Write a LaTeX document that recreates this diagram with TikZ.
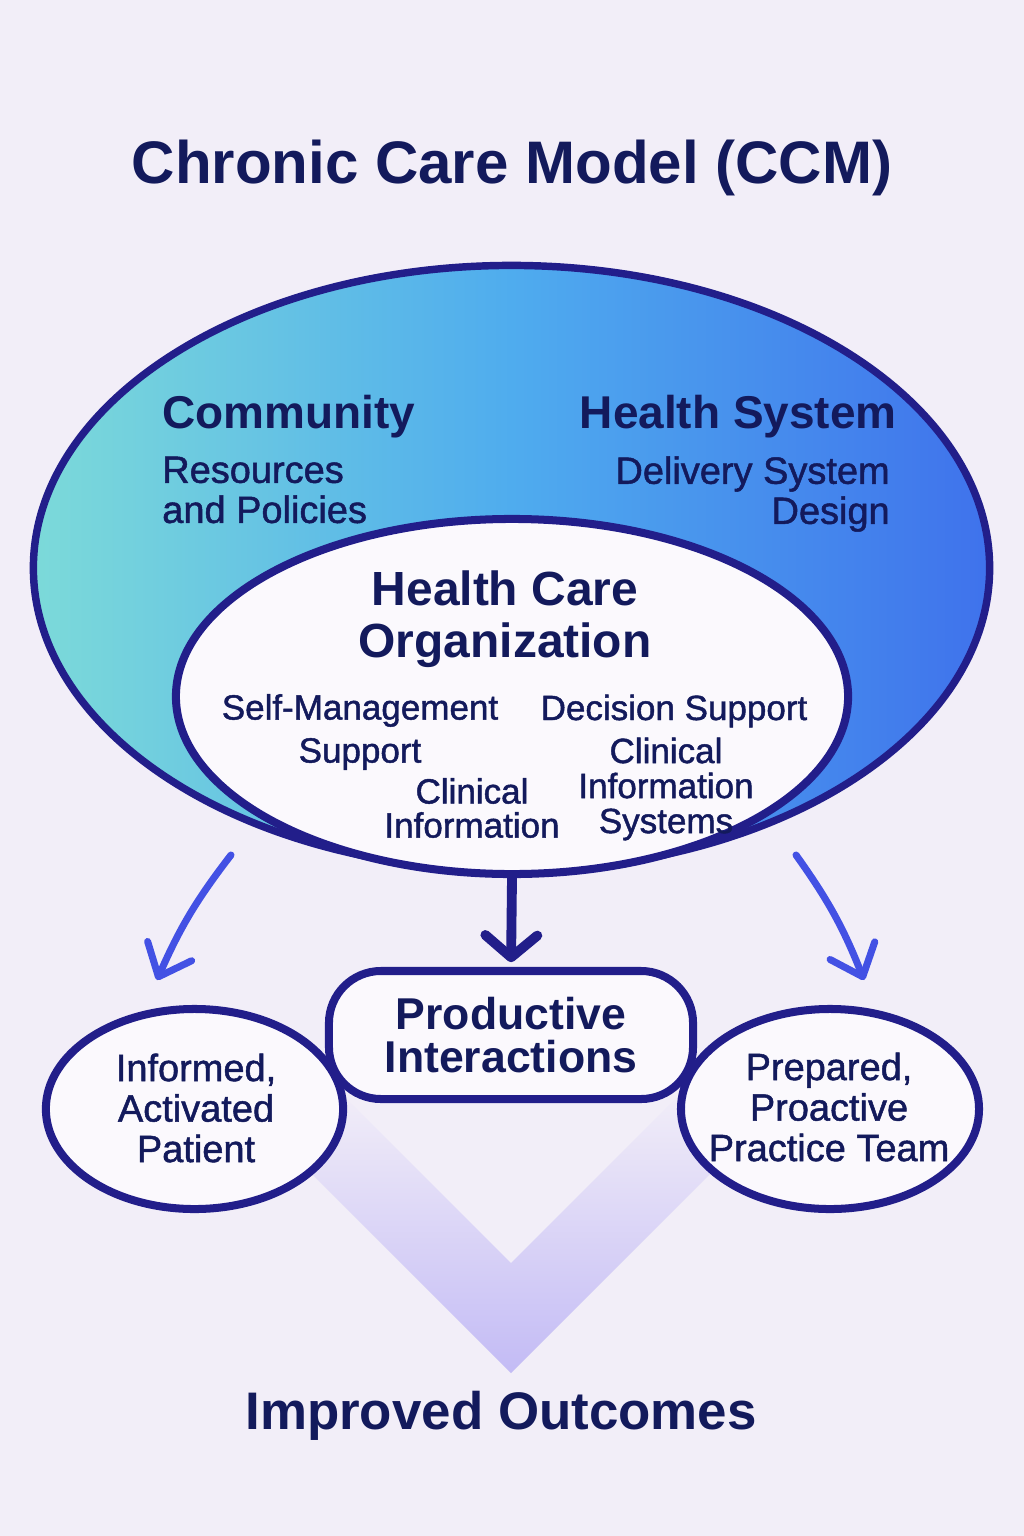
\documentclass[tikz,border=0pt]{standalone}
\usepackage{fontspec}
\setmainfont{Liberation Sans}
\newfontfamily\medfont[FakeBold=1.3]{Liberation Sans}
\usetikzlibrary{arrows.meta,shapes.geometric}
\definecolor{paper}{HTML}{F2EEF8}
\definecolor{navy}{HTML}{221E8A}
\definecolor{ink}{HTML}{131A5C}
\definecolor{teal}{HTML}{7CDAD9}
\definecolor{sky}{HTML}{4FACEE}
\definecolor{royal}{HTML}{3F72EC}
\definecolor{cobalt}{HTML}{4351E4}
\definecolor{lilac}{HTML}{C3BBF5}
\definecolor{cloud}{HTML}{FBF9FD}
\begin{document}
\begin{tikzpicture}[x=0.025cm,y=-0.025cm,
  ring/.style={ellipse,draw=navy,fill=cloud,line width=5.7pt,inner sep=0pt},
  bubble/.style={text=ink,inner sep=0pt,align=center,font=\medfont\fontsize{27}{28.8}\selectfont},
  head/.style={text=ink,inner sep=0pt,font=\fontsize{32.7}{38}\selectfont\bfseries},
  sub/.style={text=ink,inner sep=0pt,font=\medfont\fontsize{27}{28.5}\selectfont},
  item/.style={text=ink,inner sep=0pt,align=center,font=\medfont\fontsize{24.9}{30.6}\selectfont},
  side/.style={cobalt,line width=5pt,line cap=round,-{Straight Barb[length=0.7cm,width=1.2cm,round]}}]
\fill[paper] (0,0) rectangle (1024,1536);
\useasboundingbox (0,0) rectangle (1024,1536);
\node[text=ink,inner sep=0pt,anchor=base,font=\fontsize{42.7}{50}\selectfont\bfseries] (title) at (512,184) {Chronic Care Model (CCM)};
\shade[top color=paper,bottom color=lilac] (228,1090) -- (511,1373) -- (794,1090) -- (684,1090) -- (511,1263) -- (338,1090) -- cycle;
\node[ellipse,draw=navy,line width=5.3pt,left color=teal,right color=royal,middle color=sky,minimum width=23.9cm,minimum height=15.125cm,inner sep=0pt] (cms) at (511.5,568) {};
\node[ring,minimum width=16.8cm,minimum height=8.875cm] (hco) at (512,696.5) {};
\node[head,anchor=base west] (comm) at (162,428) {Community};
\node[sub,align=left,anchor=west] (res) at (162,490) {Resources\\and Policies};
\node[head,anchor=base east] (hsys) at (897,428) {Health System};
\node[sub,align=right,anchor=east] (dsd) at (890,494) {Delivery System\\Design};
\node[text=ink,inner sep=0pt,align=center,font=\fontsize{34.1}{37}\selectfont\bfseries] (hcot) at (505,619) {Health Care\\Organization};
\node[item] (sms) at (360,732) {Self-Management\\Support};
\node[item,anchor=base] (ds) at (674,720) {Decision Support};
\node[item,font=\medfont\fontsize{24.9}{24.9}\selectfont] (cis) at (666,789) {Clinical\\Information\\Systems};
\node[item,font=\medfont\fontsize{24.9}{24.2}\selectfont] (ci) at (472,808) {Clinical\\Information};
\node[ring,minimum width=7.43cm,minimum height=5cm] (pat) at (194.5,1109) {};
\node[bubble] (patt) at (196,1108) {Informed,\\Activated\\Patient};
\node[ring,minimum width=7.45cm,minimum height=5cm] (team) at (830,1109) {};
\node[bubble] (teamt) at (829,1107) {Prepared,\\Proactive\\Practice Team};
\node[rectangle,draw=navy,fill=cloud,line width=5.7pt,rounded corners=1.3cm,minimum width=9.1cm,minimum height=3.2cm,text=ink,align=center,font=\fontsize{31.7}{30}\selectfont\bfseries] (pi) at (511,1035) {Productive\\Interactions};
\draw[navy,line width=7pt,shorten >=0.12cm,-{Straight Barb[length=0.55cm,width=1.3cm,round]}] (hco.south) -- (pi.north);
\coordinate (ltail) at (231,855);
\coordinate (lhead) at (157,980);
\coordinate (rtail) at (796,855);
\coordinate (rhead) at (864,980);
\draw[side] (ltail) to[bend right=7] (lhead);
\draw[side] (rtail) to[bend left=7] (rhead);
\node[text=ink,inner sep=0pt,anchor=base,font=\fontsize{37.6}{44}\selectfont\bfseries] (out) at (501,1429) {Improved Outcomes};
\end{tikzpicture}
\end{document}
